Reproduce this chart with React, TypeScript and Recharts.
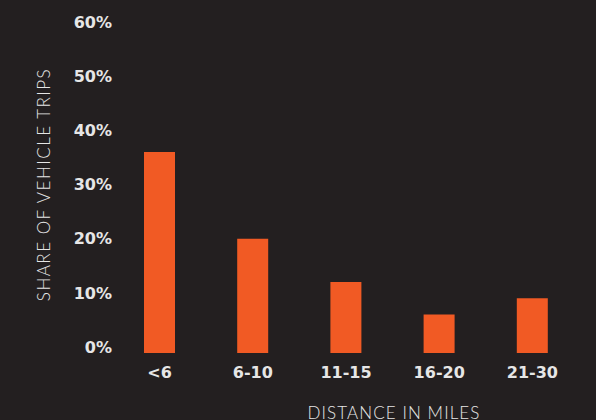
import { BarChart, Bar, XAxis, YAxis, Label } from "recharts";

const distances = ["<6", "6-10", "11-15", "16-20", "21-30"];
const tripShare = [36, 20, 12, 6, 9];
const yTicks = [0, 10, 20, 30, 40, 50, 60];

// bars in the original start a little below the 0% line
const BAR_FLOOR = -1.1;

const BG = "#231f20";
const ORANGE = "#f15a24";
const TEXT = "#e6e6e6";

const data = distances.map((d, i) => ({ distance: d, share: tripShare[i] }));

const tickFont = { fontFamily: "DejaVu Sans", fontWeight: 700, fontSize: 16, fill: TEXT };
const titleFont = { fontFamily: "Lato", fontWeight: 300, fill: TEXT };

export default function App() {
    return (
        <div style={{ position: "fixed", top: 0, left: 0, width: 596, height: 420, background: BG }}>
            <BarChart width={596} height={420} data={data} margin={{ top: 22, right: 17, bottom: 0, left: 0 }}>
                <XAxis
                    dataKey="distance"
                    height={67}
                    axisLine={false}
                    tickLine={false}
                    tickSize={0}
                    tickMargin={14}
                    tick={tickFont}
                    interval={0}
                >
                    <Label
                        content={({ viewBox }: any) => (
                            <text
                                x={viewBox.x + viewBox.width / 2 + 48}
                                y={412}
                                textAnchor="middle"
                                dominantBaseline="central"
                                fontSize={17}
                                letterSpacing={1.1}
                                {...titleFont}
                            >
                                DISTANCE IN MILES
                            </text>
                        )}
                    />
                </XAxis>
                <YAxis
                    width={113}
                    domain={[BAR_FLOOR, 60]}
                    ticks={yTicks}
                    axisLine={false}
                    tickLine={false}
                    tickSize={0}
                    tickMargin={1}
                    tick={tickFont}
                    tickFormatter={v => `${v}%`}
                >
                    <Label
                        content={({ viewBox }: any) => {
                            const cx = viewBox.x + 43.5;
                            const cy = viewBox.y + viewBox.height / 2 - 3;
                            return (
                                <text
                                    x={cx}
                                    y={cy}
                                    transform={`rotate(-90 ${cx} ${cy})`}
                                    textAnchor="middle"
                                    dominantBaseline="central"
                                    fontSize={17}
                                    letterSpacing={1.5}
                                    {...titleFont}
                                >
                                    SHARE OF VEHICLE TRIPS
                                </text>
                            );
                        }}
                    />
                </YAxis>
                <Bar
                    dataKey={(d: any) => [BAR_FLOOR, d.share]}
                    fill={ORANGE}
                    barSize={31}
                    isAnimationActive={false}
                />
            </BarChart>
        </div>
    );
}
